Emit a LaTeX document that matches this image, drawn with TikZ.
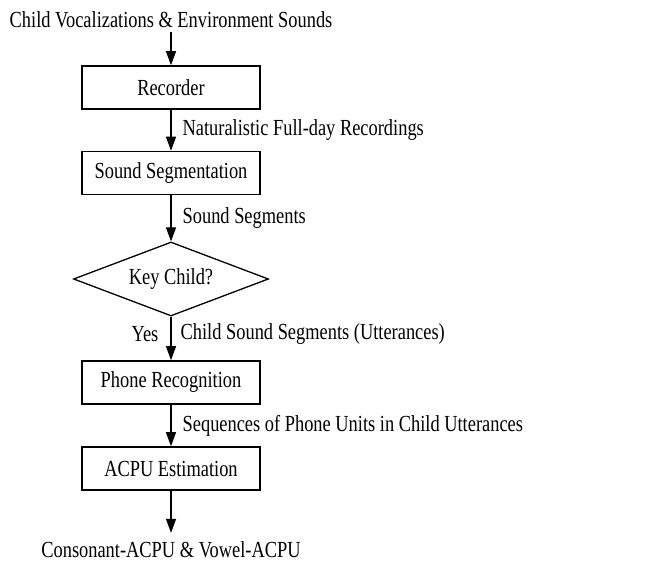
\documentclass[tikz,border=0pt]{standalone}
\usepackage{fontspec}
\setmainfont[FakeStretch=0.8]{Liberation Serif}
\usetikzlibrary{shapes.geometric,arrows.meta,positioning}
\tikzset{block/.style={
        draw,
        rectangle,
        line width=1.6pt,
        minimum width=178pt,
        minimum height=43pt,
        inner sep=0pt } }
\tikzset{decision/.style={
        draw,
        diamond,
        line width=1.3pt,
        aspect=2.6,
        minimum width=195pt,
        minimum height=74pt,
        inner sep=0pt } }
\tikzset{flow/.style={-{Triangle[length=14pt,width=10pt]}, line width=1.3pt}}
\tikzset{flowlabel/.style={right, inner sep=0pt, xshift=11pt}}

\begin{document}
\begin{tikzpicture}[x=1pt,y=-1pt,font=\fontsize{23}{27}\selectfont]
\useasboundingbox (0,0) rectangle (650,561);

\node (input) at (171,20) {Child Vocalizations \& Environment Sounds};
\node[block] (rec) at (171,87.5) {Recorder};
\node[block] (seg) at (171,173) {Sound Segmentation};
\node[decision] (key) at (171,279) {Key Child?};
\node[block] (phone) at (171,382.5) {Phone Recognition};
\node[block] (acpu) at (171,468.5) {ACPU Estimation};
\node[anchor=base, inner sep=1pt] (output) at (171,557) {Consonant-ACPU \& Vowel-ACPU};

\path[flow]
(input) edge (rec)
(rec) edge node [flowlabel] {Naturalistic Full-day Recordings} (seg)
(seg) edge node [flowlabel] {Sound Segments} (key)
(key) edge node [flowlabel, pos=0.4, xshift=-2pt] {Child Sound Segments (Utterances)}
           node [left, inner sep=0pt, xshift=-12pt, pos=0.4] {Yes} (phone)
(phone) edge node [flowlabel] {Sequences of Phone Units in Child Utterances} (acpu)
(acpu) edge ([yshift=7pt]output.north);

\end{tikzpicture}
\end{document}
